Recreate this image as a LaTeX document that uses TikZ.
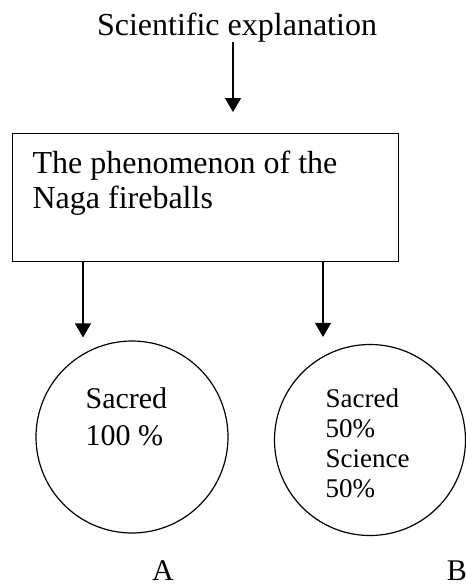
\documentclass[tikz,border=0pt]{standalone}
\usepackage{fontspec}
\setmainfont{Liberation Serif}
\usetikzlibrary{arrows.meta,positioning,calc}

\begin{document}
\begin{tikzpicture}[
    x=0.5pt, y=-0.5pt,
    line width=0.6pt,
    txt/.style={inner sep=0pt, font=\fontsize{16}{17.5}\selectfont},
    ring/.style={draw, circle, minimum size=#1, inner sep=0pt},
    arr/.style={-{Triangle[length=7pt,width=8pt]}, line width=0.6pt}
]
\useasboundingbox (0,0) rectangle (466,585);

\node[txt, anchor=base] (title) at (237,35) {Scientific explanation};
\node[txt, draw, anchor=north west, align=flush left, text width=173pt,
      inner xsep=10pt, inner ysep=9pt, text height=11pt, text depth=35pt] (phen) at (12,133)
      {The phenomenon of the\\Naga fireballs};

\node[ring=96pt] (circA) at (132,437) {};
\node[ring=95.5pt] (circB) at (370,440) {};

\node[anchor=base west, align=left, inner sep=0pt, font=\fontsize{15}{18.5}\selectfont]
      (txtA) at ([shift={(-23.5pt,-4pt)}]circA.center) {Sacred\\100 \%};
\node[anchor=base west, align=left, inner sep=0pt, font=\fontsize{13.5}{15}\selectfont]
      (txtB) at ([shift={(-22.5pt,-28.5pt)}]circB.center) {Sacred\\50\%\\Science\\50\%};

\node[txt, anchor=base, font=\fontsize{15}{18}\selectfont] (labA) at (163,580) {A};
\node[txt, anchor=base, font=\fontsize{15}{18}\selectfont] (labB) at (457,580) {B};

% connectors
\coordinate (armA) at ([xshift=35.5pt]phen.south west);
\coordinate (armB) at ([xshift=155.5pt]phen.south west);
\draw[arr, shorten >=10.5pt] ([xshift=-2pt]title.south) -- ([xshift=-2pt]title.south |- phen.north);
\draw[arr, shorten >=1.5pt] (armA) -- (armA |- circA.north);
\draw[arr, shorten >=3.5pt] (armB) -- (armB |- circB.north);
\end{tikzpicture}
\end{document}
